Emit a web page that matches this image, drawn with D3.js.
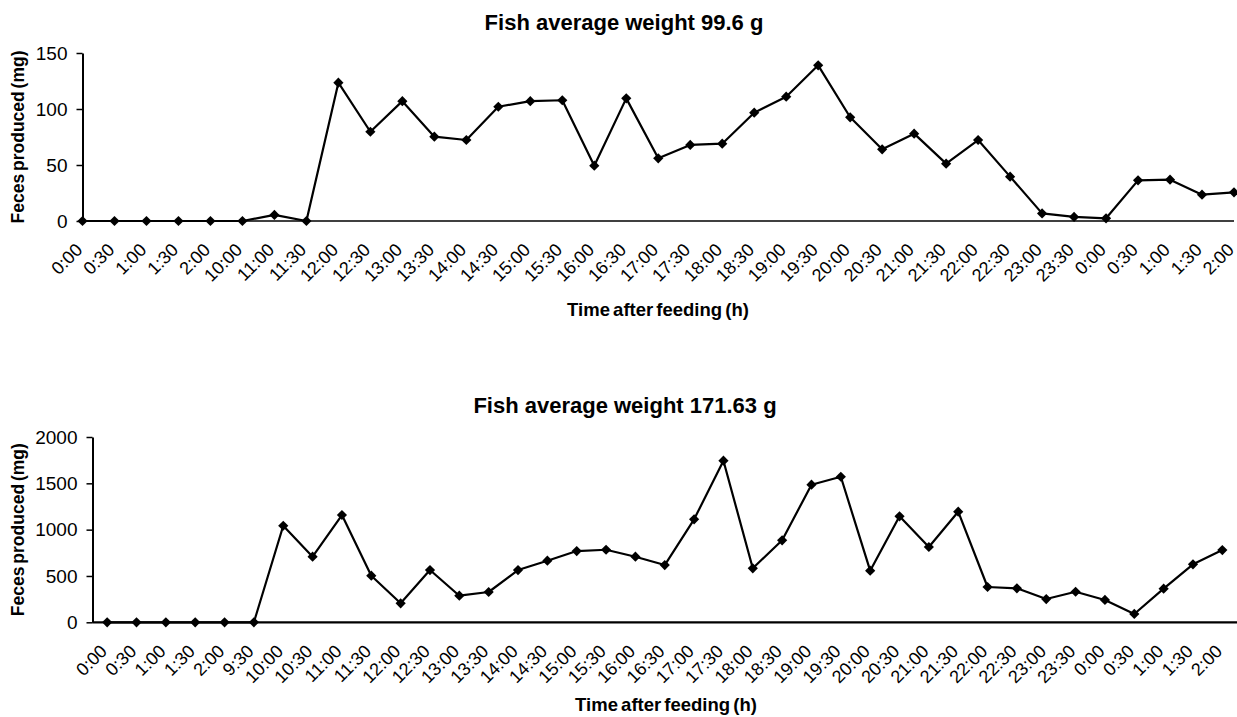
<!DOCTYPE html>
<html lang="en">
<head>
<meta charset="UTF-8">
<title>Feces produced</title>
<script src="https://cdn.jsdelivr.net/npm/d3@7"></script>
<style>
  body { margin: 0; background: #fff; }
  svg { display: block; font-family: "Liberation Sans", Arial, sans-serif; }
</style>
</head>
<body>
<script>
// chart 1: fish 99.6 g
const timesA = ["0:00","0:30","1:00","1:30","2:00","10:00","11:00","11:30","12:00","12:30",
  "13:00","13:30","14:00","14:30","15:00","15:30","16:00","16:30","17:00","17:30",
  "18:00","18:30","19:00","19:30","20:00","20:30","21:00","21:30","22:00","22:30",
  "23:00","23:30","0:00","0:30","1:00","1:30","2:00"];
const fecesA = [0, 0, 0, 0, 0, 0, 5.4, 0, 123.5, 79.7,
  107, 75.3, 72.3, 102, 107, 107.8, 49.4, 109.5, 56, 67.9,
  69, 96.7, 111, 139, 92.6, 64, 78, 51.2, 72.3, 39.6,
  6.8, 3.6, 2.4, 36.3, 36.9, 23.5, 25.6];
const ticksA = [0, 50, 100, 150];

// chart 2: fish 171.63 g
const timesB = ["0:00","0:30","1:00","1:30","2:00","9:30","10:00","10:30","11:00","11:30",
  "12:00","12:30","13:00","13:30","14:00","14:30","15:00","15:30","16:00","16:30",
  "17:00","17:30","18:00","18:30","19:00","19:30","20:00","20:30","21:00","21:30",
  "22:00","22:30","23:00","23:30","0:00","0:30","1:00","1:30","2:00"];
const fecesB = [0, 0, 0, 0, 0, 0, 1042, 708, 1158, 503,
  205, 564, 287, 327, 564, 665, 769, 783, 708, 618,
  1111, 1744, 583, 885, 1485, 1571, 557, 1144, 813, 1194,
  381, 367, 251, 330, 241, 90, 363, 626, 780];
const ticksB = [0, 500, 1000, 1500, 2000];

const width = 1237, height = 717;

const svg = d3.select("body").append("svg")
    .attr("width", width)
    .attr("height", height);

function drawChart(cfg) {
  const g = svg.append("g");
  const yMax = cfg.ticks[cfg.ticks.length - 1];

  const x = d3.scalePoint()
      .domain(d3.range(cfg.times.length))
      .range([cfg.x0, cfg.x1])
      .padding(cfg.pad);

  const y = d3.scaleLinear()
      .domain([0, yMax])
      .range([cfg.yBottom, cfg.yTop]);

  // y axis
  const yAxis = g.append("g")
      .attr("transform", `translate(${cfg.x0},0)`)
      .call(d3.axisLeft(y).tickValues(cfg.ticks).tickFormat(d3.format("d"))
        .tickSize(6).tickPadding(9).tickSizeOuter(0));
  yAxis.select(".domain").attr("stroke", "#000").attr("stroke-width", 2);
  yAxis.selectAll(".tick line").attr("stroke", "#000").attr("stroke-width", 1.5);
  yAxis.selectAll(".tick text")
      .attr("font-size", 19)
      .attr("font-family", "'Liberation Sans', Arial, sans-serif")
      .attr("fill", "#000");

  // x axis line + rotated labels
  g.append("line")
      .attr("x1", cfg.x0).attr("x2", cfg.x1)
      .attr("y1", y(0)).attr("y2", y(0))
      .attr("stroke", "#000")
      .attr("stroke-width", cfg.xw);

  g.append("g").selectAll("text")
      .data(cfg.times)
      .join("text")
      .attr("transform", (d, i) => `translate(${x(i) + 1},${y(0) + 30}) rotate(-45)`)
      .attr("text-anchor", "end")
      .attr("font-size", 18)
      .text(d => d);

  // line + markers
  const line = d3.line()
      .x((d, i) => x(i))
      .y(d => y(d));

  g.append("path")
      .datum(cfg.values)
      .attr("fill", "none")
      .attr("stroke", "#000")
      .attr("stroke-width", 2.2)
      .attr("stroke-linejoin", "round")
      .attr("d", line);

  g.append("g").selectAll("path")
      .data(cfg.values)
      .join("path")
      .attr("transform", (d, i) => `translate(${x(i)},${y(d)}) rotate(45)`)
      .attr("d", d3.symbol(d3.symbolSquare, 52))
      .attr("fill", "#000");

  // titles
  g.append("text")
      .attr("x", cfg.titleX).attr("y", cfg.titleY)
      .attr("text-anchor", "middle")
      .attr("font-size", 22)
      .attr("font-weight", "bold")
      .text(cfg.title);

  g.append("text")
      .attr("x", cfg.xlabX).attr("y", cfg.xlabY)
      .attr("text-anchor", "middle")
      .attr("font-size", 18.5)
      .attr("font-weight", "bold")
      .attr("word-spacing", -2)
      .text("Time after feeding (h)");

  g.append("text")
      .attr("transform", `translate(24,${(cfg.yTop + cfg.yBottom) / 2}) rotate(-90)`)
      .attr("text-anchor", "middle")
      .attr("font-size", 17.5)
      .attr("font-weight", "bold")
      .attr("word-spacing", -2)
      .text("Feces produced (mg)");
}

drawChart({
  times: timesA, values: fecesA, ticks: ticksA,
  x0: 82.5, x1: 1234, pad: 0, yTop: 53, yBottom: 221, xw: 1.5,
  title: "Fish average weight 99.6 g", titleX: 624, titleY: 30,
  xlabX: 658, xlabY: 316
});

drawChart({
  times: timesB, values: fecesB, ticks: ticksB,
  x0: 92.5, x1: 1237, pad: 0.5, yTop: 437, yBottom: 622.3, xw: 2.2,
  title: "Fish average weight 171.63 g", titleX: 625, titleY: 413,
  xlabX: 666, xlabY: 711
});
</script>
</body>
</html>
